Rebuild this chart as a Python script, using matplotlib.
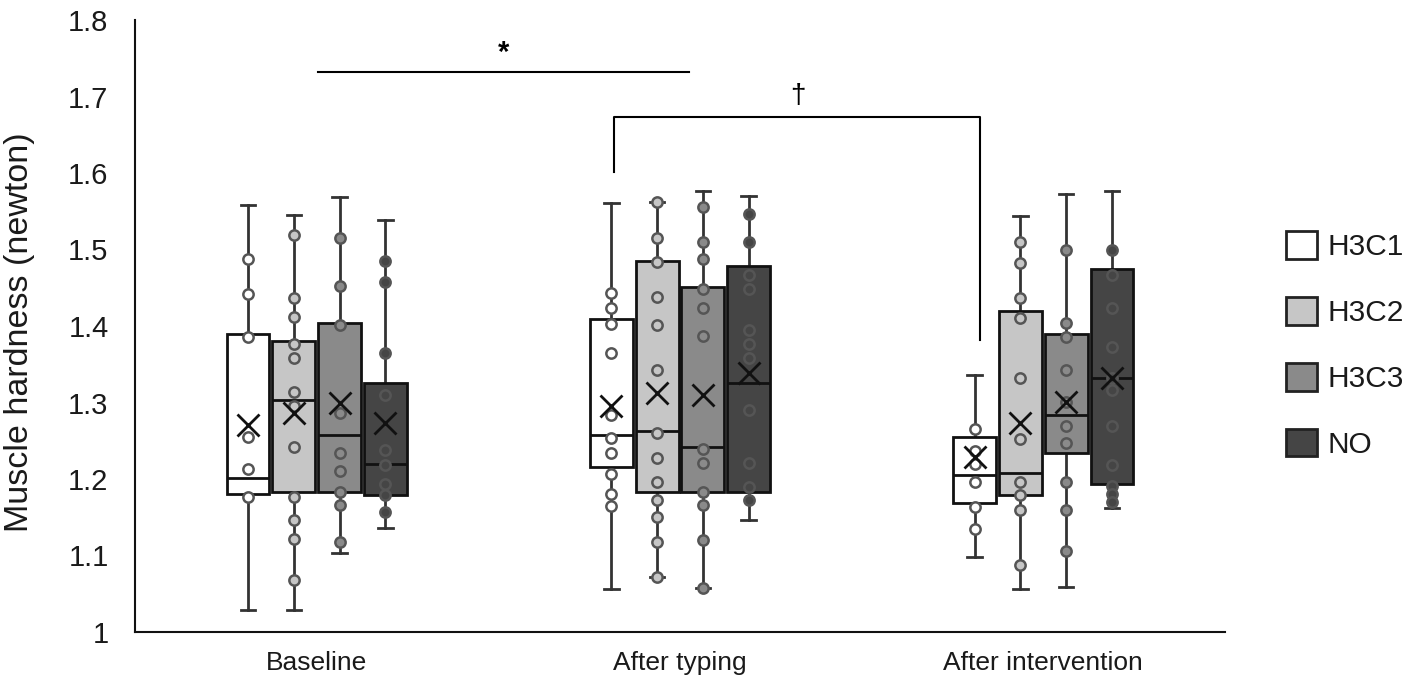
import matplotlib
matplotlib.use("Agg")
import matplotlib.pyplot as plt
from matplotlib.patches import Patch
import numpy as np

plt.rcParams['font.family'] = ['Liberation Sans', 'DejaVu Sans']

categories = ["Baseline", "After typing", "After intervention"]
groups = ["H3C1", "H3C2", "H3C3", "NO"]
colors = ["#ffffff", "#c6c6c6", "#8a8a8a", "#454545"]

# box statistics per category, per group: (whislo, q1, med, q3, whishi, mean)
stats = {
    "Baseline": [
        (1.029, 1.180, 1.201, 1.390, 1.558, 1.271),
        (1.029, 1.183, 1.303, 1.380, 1.545, 1.286),
        (1.103, 1.183, 1.258, 1.404, 1.569, 1.299),
        (1.136, 1.179, 1.220, 1.325, 1.539, 1.273),
    ],
    "After typing": [
        (1.056, 1.216, 1.258, 1.409, 1.561, 1.295),
        (1.072, 1.183, 1.263, 1.485, 1.562, 1.312),
        (1.057, 1.183, 1.242, 1.451, 1.576, 1.310),
        (1.146, 1.183, 1.325, 1.478, 1.570, 1.338),
    ],
    "After intervention": [
        (1.098, 1.169, 1.205, 1.255, 1.336, 1.229),
        (1.056, 1.179, 1.208, 1.420, 1.544, 1.273),
        (1.059, 1.234, 1.284, 1.390, 1.573, 1.301),
        (1.162, 1.193, 1.332, 1.474, 1.576, 1.332),
    ],
}

# individual data points
points = {
    "Baseline": [
        [1.488, 1.442, 1.386, 1.255, 1.213, 1.177],
        [1.519, 1.436, 1.412, 1.377, 1.358, 1.314, 1.295, 1.242, 1.177, 1.146, 1.122, 1.068],
        [1.515, 1.452, 1.401, 1.286, 1.234, 1.210, 1.183, 1.166, 1.118],
        [1.485, 1.457, 1.365, 1.310, 1.238, 1.218, 1.194, 1.179, 1.157],
    ],
    "After typing": [
        [1.443, 1.423, 1.403, 1.365, 1.284, 1.253, 1.234, 1.207, 1.181, 1.165],
        [1.562, 1.515, 1.484, 1.438, 1.401, 1.342, 1.260, 1.227, 1.196, 1.172, 1.150, 1.118, 1.072],
        [1.556, 1.510, 1.488, 1.448, 1.423, 1.387, 1.239, 1.221, 1.183, 1.166, 1.120, 1.058],
        [1.547, 1.510, 1.467, 1.449, 1.395, 1.377, 1.358, 1.290, 1.221, 1.190, 1.172],
    ],
    "After intervention": [
        [1.266, 1.236, 1.220, 1.196, 1.164, 1.134],
        [1.510, 1.482, 1.437, 1.411, 1.332, 1.252, 1.196, 1.179, 1.160, 1.088],
        [1.499, 1.404, 1.386, 1.342, 1.301, 1.269, 1.247, 1.196, 1.159, 1.106],
        [1.499, 1.467, 1.423, 1.372, 1.332, 1.316, 1.269, 1.218, 1.191, 1.181, 1.170],
    ],
}

yticks = [1, 1.1, 1.2, 1.3, 1.4, 1.5, 1.6, 1.7, 1.8]
ytick_labels = ["1", "1.1", "1.2", "1.3", "1.4", "1.5", "1.6", "1.7", "1.8"]

fig = plt.figure(figsize=(14.24, 6.97), dpi=100)
ax = fig.add_axes([135/1424, 65/697, (1225-135)/1424, (632-20)/697])

offsets = [-0.189, -0.063, 0.063, 0.189]
width = 0.118
text_col = "#1a1a1a"

for ci, cat in enumerate(categories):
    center = ci + 0.5
    for gi in range(4):
        wlo, q1, med, q3, whi, mean = stats[cat][gi]
        pos = center + offsets[gi]
        bs = [dict(whislo=wlo, q1=q1, med=med, q3=q3, whishi=whi, mean=mean)]
        ax.bxp(bs, positions=[pos], widths=width, showmeans=True, showfliers=False,
               patch_artist=True,
               boxprops=dict(facecolor=colors[gi], edgecolor="#111111", linewidth=2, zorder=2),
               medianprops=dict(color="#111111", linewidth=2, zorder=3),
               whiskerprops=dict(color="#333333", linewidth=2, zorder=1),
               capprops=dict(color="#333333", linewidth=2, zorder=1),
               meanprops=dict(marker="x", markersize=16, markeredgecolor="#111111",
                              markeredgewidth=2, zorder=5),
               capwidths=0.04, manage_ticks=False)
        pts = points[cat][gi]
        ax.scatter([pos] * len(pts), pts, s=55, facecolors=colors[gi],
                   edgecolors="#555555", linewidths=1.8, zorder=4)

ax.set_xlim(0, 3)
ax.set_ylim(1.0, 1.8)
ax.set_xticks([0.5, 1.5, 2.5])
ax.set_xticklabels(categories, fontsize=19, color=text_col)
ax.set_yticks(yticks)
ax.set_yticklabels(ytick_labels, fontsize=21, color=text_col)
ax.tick_params(length=0)
ax.tick_params(axis='y', pad=19)
ax.tick_params(axis='x', pad=14)
for s in ["top", "right"]:
    ax.spines[s].set_visible(False)
for s in ["left", "bottom"]:
    ax.spines[s].set_linewidth(1.5)
    ax.spines[s].set_color("#111111")
ax.set_ylabel("Muscle hardness (newton)", fontsize=24.5, color=text_col)
ax.yaxis.set_label_coords((20 - 135) / 1090, 0.49)
ax.yaxis.label.set_verticalalignment("center")

# significance annotations
ax.plot([0.503, 1.525], [1.732, 1.732], color="black", lw=1.5, clip_on=False)
ax.text(1.014, 1.738, "*", ha="center", va="bottom", fontsize=21, fontweight="bold")
ax.plot([1.319, 1.319, 2.327, 2.327], [1.601, 1.673, 1.673, 1.382], color="black", lw=1.5, clip_on=False)
ax.text(1.824, 1.684, "†", ha="center", va="bottom", fontsize=20)

handles = [Patch(facecolor=c, edgecolor="#222222", linewidth=2) for c in colors]
fig.legend(handles, groups, loc="center left", bbox_to_anchor=(1268/1424, (697-345)/697),
           frameon=False, fontsize=21.5, labelspacing=1.2, handlelength=1.05, handleheight=1.05,
           handletextpad=0.35, labelcolor=text_col, borderaxespad=0.2)

fig.savefig("out.png", dpi=100)
